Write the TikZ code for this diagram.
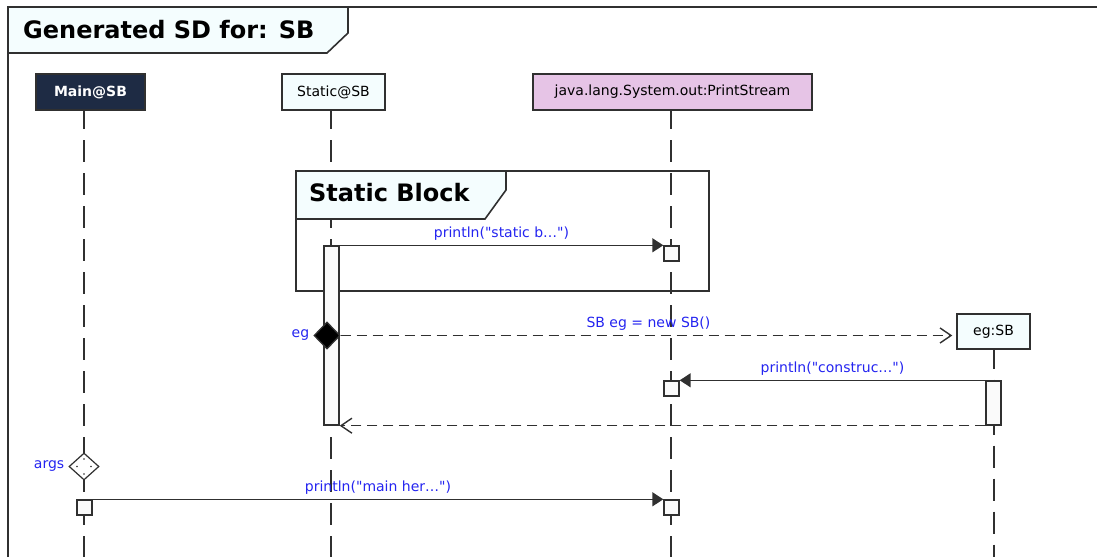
\documentclass[tikz,border=0pt]{standalone}
\usepackage{fontspec}
\setmainfont{DejaVu Sans}
% same face without the TeX quote mapping, so " stays a straight quote
\newfontfamily\rawfont{DejaVu Sans}
\usetikzlibrary{shapes.geometric,arrows.meta}

\definecolor{linec}{RGB}{48,48,48}
\definecolor{headnavy}{RGB}{30,43,68}
\definecolor{headpink}{RGB}{230,196,230}
\definecolor{headpale}{RGB}{244,253,254}
\definecolor{msgblue}{RGB}{36,36,240}
\definecolor{actfill}{RGB}{250,250,250}

\begin{document}
\begin{tikzpicture}[x=1pt,y=-1pt,line join=miter,
  lbl/.style={font=\fontsize{14}{16}\selectfont},
  bigtitle/.style={font=\fontsize{24}{28}\selectfont\bfseries,inner sep=0pt},
  headbox/.style={draw=linec,line width=1.4pt,lbl,minimum height=36pt,inner sep=0pt},
  lifeline/.style={draw=linec,line width=1.5pt,dash pattern=on 22pt off 11pt,dash phase=3pt},
  actbox/.style={draw=linec,line width=1.4pt,fill=actfill,minimum width=15pt,inner sep=0pt},
  call/.style={draw=linec,line width=1.5pt,-{Triangle[length=11pt,width=14pt]}},
  reply/.style={draw=linec,line width=1.5pt,dash pattern=on 10pt off 6pt,
    -{Straight Barb[length=11pt,width=15pt,line width=1.4pt]}},
  msg/.style={font=\rawfont\fontsize{14}{16}\selectfont,text=msgblue,midway,above,inner sep=0pt,yshift=4pt},
  varlbl/.style={lbl,text=msgblue,inner sep=0pt},
  frameline/.style={draw=linec,line width=1.6pt}
]
\useasboundingbox (0,0) rectangle (1097,557);
\coordinate (bottom) at (0,557);

% outer diagram frame and its title tab
\draw[frameline] (8,557) -- (8,7) -- (1097,7);
\draw[frameline,fill=headpale] (8,7) -- (348,7) -- (348,33) -- (327,53) -- (8,53) -- cycle;
\node[bigtitle,anchor=base west] (title) at (23,38) {Generated SD for: SB};

% lifeline heads
\node[headbox,fill=headnavy,text=white,font=\fontsize{14}{16}\selectfont\bfseries,minimum width=109pt] (main) at (90.5,92) {Main@SB};
\node[headbox,fill=headpale,minimum width=103pt] (static) at (333.5,92) {Static@SB};
\node[headbox,fill=headpink,minimum width=279pt] (ps) at (672.5,92) {java.lang.System.out:PrintStream};
\node[headbox,fill=headpale,minimum width=73pt,minimum height=35pt] (eghead) at (993.5,331.5) {eg:SB};

% lifelines
\draw[lifeline] (84,110) coordinate (mTop) -- (mTop |- bottom);
\draw[lifeline] (331,110) coordinate (sTop) -- (sTop |- bottom);
\draw[lifeline] (671,110) coordinate (pTop) -- (pTop |- bottom);
\draw[lifeline] (eghead.south -| 994,0) coordinate (eTop) -- (eTop |- bottom);

% static block fragment
\draw[frameline] (296,171) rectangle (709,291);
\draw[frameline,fill=headpale] (296,171) -- (506,171) -- (506,190) -- (485,219) -- (296,219) -- cycle;
\node[bigtitle,anchor=base west] (sbtitle) at (309,201) {Static Block};

% activation bars
\node[actbox,minimum height=179pt] (actS) at (331.5,335.5) {};
\node[actbox,minimum height=15pt] (P1) at (671.5,253.5) {};
\node[actbox,minimum height=15pt] (P2) at (671.5,388.5) {};
\node[actbox,minimum height=15pt] (P3) at (671.5,507.5) {};
\node[actbox,minimum height=15pt] (M1) at (84.5,507.5) {};
\node[actbox,minimum height=44pt] (egAct) at (993.5,403) {};

% variable markers
\node[diamond,draw=linec,line width=1.3pt,fill=black,minimum width=26pt,minimum height=27pt,inner sep=0pt] (egd) at (327,335.5) {};
\node[varlbl,anchor=east] (eglbl) at ([xshift=-4pt]egd.west) {eg};
\node[diamond,draw=linec,line width=1.2pt,fill=white,minimum width=30pt,minimum height=27pt,inner sep=0pt] (argd) at (84,466.5) {};
\node[varlbl,anchor=east] (argslbl) at ([xshift=-4pt]argd.west) {args};
\foreach \p in {(84,459),(84,474),(77,466.5),(91,466.5)} \fill[linec] \p circle (0.8pt);

% messages
\draw[call] (actS.north east) -- (P1.north west) node[msg] {println("static b…")};
\draw[reply,shorten >=4pt] (egd.east) -- (egd.east -| eghead.west) node[msg] {SB eg = new SB()};
\draw[call] (egAct.north west) -- (P2.north east) node[msg] {println("construc…")};
\draw[reply] (egAct.south west) -- (actS.south east);
\draw[call] (M1.north east) -- (P3.north west) node[msg] {println("main her…")};
\end{tikzpicture}
\end{document}
